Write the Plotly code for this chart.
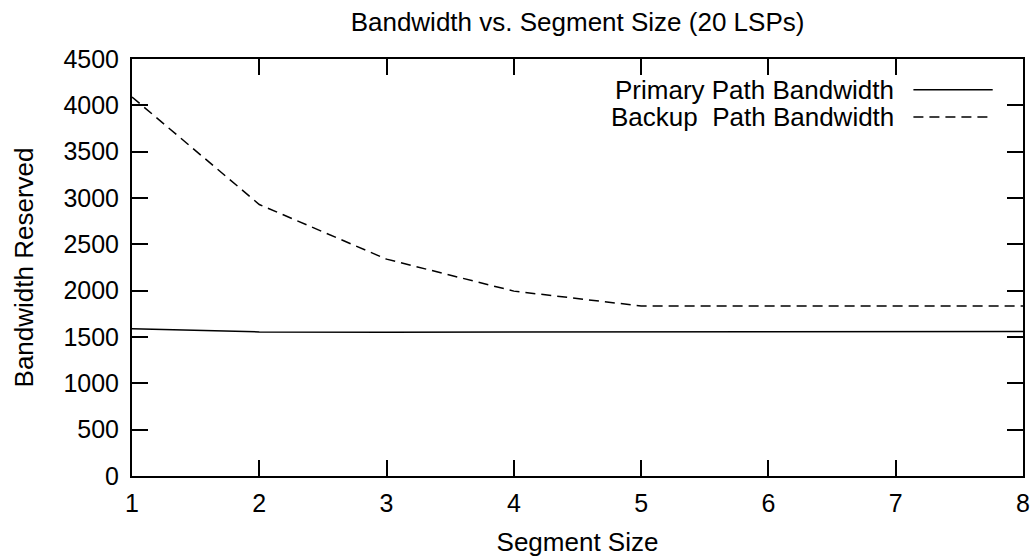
import plotly.graph_objects as go

segment_size = [1, 2, 3, 4, 5, 6, 7, 8]
primary_bw = [1590, 1555, 1552, 1555, 1558, 1560, 1560, 1560]
backup_bw = [4090, 2930, 2340, 1995, 1835, 1835, 1835, 1835]
series_names = ["Primary Path Bandwidth", "Backup  Path Bandwidth"]
y_ticks = [0, 500, 1000, 1500, 2000, 2500, 3000, 3500, 4000, 4500]
x_ticks = [1, 2, 3, 4, 5, 6, 7, 8]

FONT = "Liberation Sans, Arial, sans-serif"

fig = go.Figure()
fig.add_trace(go.Scatter(x=segment_size, y=primary_bw, mode="lines",
                         line=dict(color="black", width=1.5), name=series_names[0],
                         showlegend=False))
fig.add_trace(go.Scatter(x=segment_size, y=backup_bw, mode="lines",
                         line=dict(color="black", width=1.5, dash="10px,6px"),
                         name=series_names[1], showlegend=False))

# gnuplot-style legend (text right, line sample right of text)
legend_rows = [(0.926, "solid"), (0.861, "10px,6px")]
for name, (yy, dash) in zip(series_names, legend_rows):
    fig.add_annotation(xref="paper", yref="paper", x=0.857, y=yy, text=name.replace("  ", "&nbsp; "),
                       showarrow=False, xanchor="right", yanchor="middle",
                       font=dict(family=FONT, size=26, color="black"))
    fig.add_shape(type="line", xref="paper", yref="paper", x0=0.877, x1=0.966, y0=yy, y1=yy,
                  line=dict(color="black", width=1.5, dash=dash))

fig.update_layout(
    width=1035, height=558,
    margin=dict(l=132, r=12, t=59, b=82),
    paper_bgcolor="white", plot_bgcolor="white",
    font=dict(family=FONT, size=26, color="black"),
    title=dict(text="Bandwidth vs. Segment Size (20 LSPs)", x=0.558, xanchor="center",
               y=0.96, yanchor="middle", font=dict(family=FONT, size=26, color="black")),
    showlegend=False,
)
fig.update_xaxes(range=[1, 8], tickvals=x_ticks, ticks="inside", ticklen=16, tickwidth=2,
                 tickcolor="black", showline=True, linewidth=2, linecolor="black",
                 mirror="allticks", showgrid=False, zeroline=False, automargin=False,
                 title=dict(text="Segment Size", standoff=17, font=dict(size=26)),
                 tickfont=dict(size=25), ticklabelstandoff=4)
fig.update_yaxes(range=[0, 4500], tickvals=y_ticks, ticks="inside", ticklen=16, tickwidth=2,
                 tickcolor="black", showline=True, linewidth=2, linecolor="black",
                 mirror="allticks", showgrid=False, zeroline=False, automargin=False,
                 title=dict(text="Bandwidth Reserved", standoff=22, font=dict(size=26)),
                 tickfont=dict(size=25), ticklabelstandoff=6)

fig.write_html("out.html")
